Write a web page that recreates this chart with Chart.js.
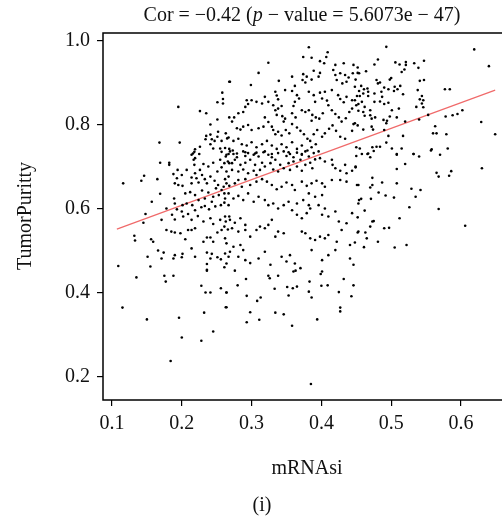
<!DOCTYPE html>
<html>
<head>
<meta charset="utf-8">
<script src="https://cdn.jsdelivr.net/npm/chart.js@4.4.0/dist/chart.umd.min.js"></script>
<style>
  html, body { margin: 0; padding: 0; background: #fff; overflow: hidden; }
  #wrap { width: 512px; height: 520px; }
</style>
</head>
<body>
<div id="wrap"><canvas id="purityChart" width="512" height="520"></canvas></div>
<script>
// samples, grouped by area of the plot: [mRNAsi, tumor purity]
var upperLeft = [
  [0.268,0.903],[0.258,0.877],[0.251,0.854],[0.259,0.862],[0.259,0.851],[0.195,0.843],[0.226,0.833],
  [0.235,0.828],[0.268,0.818],[0.251,0.813],[0.241,0.801],[0.252,0.784],[0.263,0.780],[0.241,0.777],
  [0.235,0.774],[0.234,0.766],[0.243,0.766],[0.247,0.762],[0.257,0.762],[0.251,0.772],[0.265,0.768],
  [0.168,0.758],[0.197,0.758],[0.241,0.754],[0.219,0.742],[0.226,0.748],[0.245,0.744],[0.255,0.744],
  [0.262,0.745],[0.216,0.732],[0.225,0.731]
];
var upperMid = [
  [0.382,0.985],[0.374,0.962],[0.386,0.960],[0.409,0.973],[0.407,0.962],[0.398,0.952],[0.404,0.947],
  [0.324,0.948],[0.310,0.924],[0.269,0.903],[0.299,0.895],[0.420,0.943],[0.432,0.947],[0.446,0.943],
  [0.417,0.931],[0.389,0.929],[0.374,0.921],[0.379,0.915],[0.373,0.907],[0.377,0.901],[0.386,0.908],
  [0.396,0.915],[0.398,0.924],[0.358,0.915],[0.339,0.905],[0.362,0.893],[0.420,0.919],[0.427,0.923],
  [0.434,0.919],[0.439,0.913],[0.445,0.923],[0.452,0.924],[0.422,0.907],[0.430,0.899],[0.436,0.903],
  [0.449,0.908],[0.348,0.883],[0.334,0.879],[0.336,0.870],[0.338,0.861],[0.319,0.867],[0.315,0.851],
  [0.307,0.855],[0.300,0.859],[0.293,0.859],[0.295,0.850],[0.291,0.843],[0.288,0.831],[0.281,0.828],
  [0.275,0.818],[0.358,0.881],[0.365,0.871],[0.368,0.863],[0.362,0.855],[0.360,0.845],[0.382,0.879],
  [0.389,0.871],[0.398,0.877],[0.405,0.879],[0.401,0.863],[0.408,0.858],[0.391,0.855],[0.415,0.883],
  [0.424,0.871],[0.427,0.862],[0.432,0.854],[0.436,0.867],[0.444,0.859],[0.451,0.869],[0.453,0.850],
  [0.444,0.839],[0.324,0.855],[0.331,0.847],[0.334,0.835],[0.338,0.839],[0.343,0.845],[0.336,0.824],
  [0.344,0.821],[0.348,0.815],[0.346,0.808],[0.358,0.828],[0.363,0.818],[0.372,0.835],[0.377,0.831],
  [0.382,0.835],[0.387,0.824],[0.392,0.818],[0.386,0.810],[0.397,0.815],[0.402,0.828],[0.410,0.847],
  [0.415,0.835],[0.420,0.826],[0.425,0.818],[0.429,0.808],[0.435,0.816],[0.440,0.831],[0.446,0.802],
  [0.452,0.799],[0.272,0.808],[0.279,0.792],[0.284,0.789],[0.288,0.796],[0.295,0.800],[0.300,0.788],
  [0.310,0.792],[0.317,0.796],[0.319,0.818],[0.324,0.807],[0.329,0.796],[0.331,0.788],[0.334,0.778],
  [0.338,0.784],[0.343,0.775],[0.349,0.788],[0.354,0.780],[0.358,0.802],[0.365,0.794],[0.370,0.786],
  [0.375,0.778],[0.380,0.767],[0.384,0.762],[0.389,0.778],[0.394,0.788],[0.401,0.772],[0.405,0.780],
  [0.411,0.791],[0.416,0.799],[0.421,0.786],[0.427,0.772],[0.434,0.767],[0.444,0.786],[0.267,0.770],
  [0.274,0.762],[0.281,0.767],[0.286,0.754],[0.293,0.751],[0.300,0.759],[0.307,0.747],[0.315,0.754],
  [0.322,0.762],[0.329,0.751],[0.336,0.743],[0.343,0.754],[0.350,0.747],[0.358,0.759],[0.365,0.743],
  [0.372,0.751],[0.380,0.739],[0.386,0.747],[0.392,0.754],[0.268,0.743],[0.273,0.739],[0.279,0.732],
  [0.291,0.735],[0.305,0.732],[0.317,0.735],[0.329,0.731],[0.353,0.735],[0.372,0.731]
];
var upperRight = [
  [0.493,0.986],[0.619,0.980],[0.640,0.940],[0.481,0.956],[0.476,0.944],[0.506,0.949],[0.512,0.944],
  [0.521,0.950],[0.521,0.943],[0.533,0.947],[0.539,0.936],[0.547,0.953],[0.519,0.932],[0.515,0.926],
  [0.452,0.937],[0.454,0.923],[0.464,0.928],[0.479,0.907],[0.481,0.899],[0.484,0.901],[0.500,0.912],
  [0.498,0.908],[0.541,0.905],[0.547,0.907],[0.448,0.891],[0.457,0.893],[0.461,0.885],[0.466,0.887],
  [0.467,0.879],[0.460,0.875],[0.454,0.881],[0.455,0.869],[0.467,0.869],[0.476,0.875],[0.486,0.879],
  [0.490,0.889],[0.496,0.885],[0.505,0.891],[0.513,0.893],[0.509,0.885],[0.504,0.881],[0.517,0.873],
  [0.538,0.883],[0.544,0.869],[0.541,0.861],[0.546,0.859],[0.544,0.851],[0.577,0.885],[0.584,0.885],
  [0.448,0.859],[0.450,0.847],[0.458,0.855],[0.462,0.843],[0.453,0.834],[0.460,0.831],[0.462,0.822],
  [0.470,0.835],[0.470,0.823],[0.472,0.815],[0.477,0.818],[0.476,0.855],[0.484,0.856],[0.490,0.850],
  [0.496,0.853],[0.487,0.867],[0.501,0.835],[0.511,0.839],[0.489,0.812],[0.494,0.810],[0.498,0.820],
  [0.508,0.818],[0.520,0.808],[0.536,0.843],[0.546,0.842],[0.540,0.813],[0.553,0.824],[0.563,0.797],
  [0.560,0.780],[0.565,0.780],[0.579,0.778],[0.578,0.820],[0.588,0.823],[0.595,0.826],[0.602,0.835],
  [0.629,0.807],[0.649,0.778],[0.448,0.804],[0.460,0.789],[0.472,0.796],[0.474,0.789],[0.490,0.788],
  [0.493,0.804],[0.496,0.774],[0.517,0.774],[0.450,0.747],[0.455,0.744],[0.467,0.732],[0.473,0.747],
  [0.479,0.748],[0.484,0.748],[0.493,0.758],[0.501,0.744],[0.515,0.744],[0.532,0.731],[0.558,0.742],
  [0.581,0.744],[0.508,0.731]
];
var midLeft = [
  [0.218,0.736],[0.214,0.729],[0.219,0.721],[0.217,0.717],[0.257,0.736],[0.263,0.725],[0.267,0.731],
  [0.255,0.717],[0.261,0.709],[0.268,0.709],[0.169,0.710],[0.182,0.710],[0.182,0.705],[0.218,0.705],
  [0.231,0.707],[0.238,0.701],[0.245,0.710],[0.251,0.689],[0.257,0.699],[0.264,0.689],[0.194,0.693],
  [0.188,0.683],[0.193,0.673],[0.200,0.681],[0.207,0.693],[0.219,0.685],[0.226,0.693],[0.229,0.681],
  [0.221,0.673],[0.214,0.675],[0.233,0.671],[0.241,0.677],[0.146,0.679],[0.142,0.667],[0.165,0.671],
  [0.116,0.661],[0.190,0.661],[0.195,0.657],[0.201,0.655],[0.214,0.661],[0.224,0.663],[0.236,0.661],
  [0.247,0.667],[0.252,0.657],[0.260,0.653],[0.264,0.661],[0.268,0.655],[0.249,0.649],[0.257,0.645],
  [0.169,0.636],[0.205,0.637],[0.212,0.640],[0.219,0.633],[0.229,0.644],[0.238,0.639],[0.245,0.629],
  [0.253,0.633],[0.261,0.637],[0.262,0.625],[0.224,0.621],[0.233,0.625],[0.243,0.617],[0.189,0.625],
  [0.190,0.613],[0.157,0.617],[0.201,0.609],[0.207,0.613],[0.215,0.609],[0.219,0.597],[0.228,0.604],
  [0.233,0.607],[0.239,0.599],[0.248,0.606],[0.256,0.609],[0.261,0.615],[0.267,0.609],[0.178,0.601],
  [0.193,0.599],[0.186,0.586],[0.200,0.594],[0.209,0.588],[0.148,0.588],[0.145,0.567],[0.171,0.574],
  [0.190,0.575],[0.202,0.582],[0.214,0.574],[0.223,0.583],[0.231,0.570],[0.241,0.578],[0.245,0.564],
  [0.255,0.574],[0.263,0.570],[0.257,0.550],[0.266,0.551],[0.261,0.558],[0.268,0.582],[0.178,0.550],
  [0.185,0.546],[0.190,0.544],[0.198,0.542],[0.205,0.528],[0.209,0.550],[0.214,0.550],[0.219,0.554],
  [0.231,0.522],[0.236,0.532],[0.241,0.532],[0.245,0.522],[0.251,0.544],[0.262,0.530],[0.132,0.536],
  [0.133,0.525],[0.156,0.528],[0.159,0.522],[0.166,0.501],[0.174,0.496],[0.171,0.482],[0.190,0.490],
  [0.188,0.482],[0.201,0.493],[0.200,0.485],[0.214,0.506],[0.219,0.486],[0.236,0.496],[0.243,0.493],
  [0.241,0.482],[0.251,0.485],[0.256,0.480],[0.262,0.494],[0.267,0.486],[0.151,0.486],[0.109,0.464],
  [0.155,0.463],[0.236,0.469],[0.236,0.455],[0.261,0.461],[0.264,0.470]
];
var center = [
  [0.264,0.729],[0.269,0.737],[0.274,0.731],[0.279,0.723],[0.288,0.737],[0.291,0.726],[0.295,0.733],
  [0.303,0.729],[0.307,0.734],[0.310,0.725],[0.319,0.737],[0.324,0.729],[0.329,0.723],[0.338,0.733],
  [0.346,0.737],[0.350,0.726],[0.355,0.731],[0.360,0.723],[0.365,0.734],[0.372,0.729],[0.377,0.737],
  [0.382,0.725],[0.389,0.733],[0.396,0.737],[0.266,0.713],[0.272,0.709],[0.276,0.717],[0.284,0.705],
  [0.291,0.710],[0.298,0.717],[0.305,0.705],[0.315,0.710],[0.319,0.701],[0.327,0.709],[0.334,0.717],
  [0.341,0.705],[0.346,0.697],[0.353,0.709],[0.360,0.713],[0.365,0.701],[0.370,0.717],[0.377,0.705],
  [0.384,0.710],[0.391,0.718],[0.272,0.693],[0.281,0.689],[0.288,0.694],[0.295,0.685],[0.303,0.691],
  [0.307,0.681],[0.312,0.693],[0.331,0.694],[0.338,0.689],[0.355,0.693],[0.372,0.691],[0.387,0.697],
  [0.398,0.721],[0.405,0.713],[0.415,0.717],[0.416,0.705],[0.420,0.697],[0.434,0.705],[0.427,0.691],
  [0.436,0.685],[0.444,0.691],[0.449,0.701],[0.262,0.671],[0.267,0.677],[0.281,0.669],[0.276,0.661],
  [0.291,0.671],[0.298,0.657],[0.286,0.653],[0.307,0.665],[0.315,0.671],[0.322,0.665],[0.329,0.657],
  [0.336,0.647],[0.343,0.653],[0.350,0.663],[0.358,0.657],[0.362,0.645],[0.372,0.665],[0.379,0.655],
  [0.386,0.661],[0.393,0.667],[0.401,0.661],[0.405,0.653],[0.415,0.669],[0.427,0.669],[0.436,0.665],
  [0.451,0.657],[0.382,0.637],[0.391,0.629],[0.401,0.633],[0.267,0.637],[0.274,0.625],[0.281,0.631],
  [0.288,0.621],[0.295,0.637],[0.303,0.617],[0.310,0.629],[0.319,0.621],[0.324,0.609],[0.331,0.613],
  [0.338,0.601],[0.346,0.609],[0.353,0.617],[0.365,0.613],[0.374,0.621],[0.382,0.609],[0.358,0.597],
  [0.365,0.586],[0.372,0.578],[0.379,0.590],[0.384,0.601],[0.396,0.609],[0.405,0.601],[0.401,0.586],
  [0.410,0.582],[0.420,0.594],[0.425,0.570],[0.436,0.566],[0.444,0.590],[0.453,0.613],[0.453,0.546],
  [0.262,0.582],[0.269,0.574],[0.276,0.567],[0.284,0.578],[0.291,0.562],[0.272,0.554],[0.281,0.546],
  [0.291,0.550],[0.298,0.534],[0.307,0.550],[0.312,0.558],[0.319,0.554],[0.324,0.562],[0.329,0.574],
  [0.338,0.546],[0.346,0.542],[0.334,0.534],[0.372,0.546],[0.377,0.542],[0.384,0.530],[0.391,0.526],
  [0.398,0.534],[0.405,0.530],[0.410,0.538],[0.422,0.522],[0.429,0.550],[0.441,0.514],[0.448,0.520],
  [0.264,0.518],[0.274,0.510],[0.284,0.514],[0.288,0.502],[0.269,0.498],[0.281,0.486],[0.291,0.478],
  [0.298,0.471],[0.310,0.482],[0.319,0.498],[0.327,0.467],[0.343,0.486],[0.350,0.475],[0.355,0.490],
  [0.362,0.470],[0.370,0.459],[0.386,0.502],[0.401,0.478],[0.410,0.490],[0.420,0.502],[0.441,0.482],
  [0.446,0.467],[0.401,0.451],[0.360,0.451]
];
var midRight = [
  [0.450,0.726],[0.458,0.731],[0.466,0.731],[0.470,0.723],[0.475,0.738],[0.508,0.729],[0.532,0.731],
  [0.540,0.725],[0.570,0.729],[0.557,0.739],[0.520,0.707],[0.508,0.695],[0.449,0.699],[0.565,0.686],
  [0.568,0.677],[0.583,0.679],[0.586,0.690],[0.630,0.697],[0.473,0.674],[0.487,0.663],[0.508,0.661],
  [0.453,0.657],[0.473,0.657],[0.470,0.651],[0.482,0.639],[0.492,0.632],[0.504,0.627],[0.529,0.648],
  [0.542,0.645],[0.535,0.629],[0.454,0.621],[0.457,0.624],[0.471,0.624],[0.526,0.604],[0.568,0.600],
  [0.462,0.596],[0.452,0.580],[0.512,0.578],[0.473,0.570],[0.475,0.571],[0.470,0.558],[0.490,0.554],
  [0.497,0.555],[0.606,0.560],[0.452,0.544],[0.463,0.544],[0.465,0.530],[0.481,0.522],[0.461,0.509],
  [0.505,0.508],[0.522,0.514]
];
var lowerLeft = [
  [0.135,0.437],[0.175,0.441],[0.177,0.427],[0.188,0.441],[0.236,0.453],[0.228,0.417],[0.234,0.401],
  [0.241,0.401],[0.256,0.411],[0.264,0.401],[0.115,0.365],[0.263,0.366],[0.232,0.353],[0.150,0.337],
  [0.196,0.341],[0.245,0.308],[0.200,0.294],[0.228,0.286],[0.184,0.238]
];
var lowerMid = [
  [0.276,0.453],[0.292,0.433],[0.324,0.441],[0.326,0.435],[0.338,0.441],[0.363,0.453],[0.399,0.445],
  [0.280,0.418],[0.264,0.401],[0.264,0.366],[0.293,0.393],[0.308,0.381],[0.313,0.389],[0.333,0.410],
  [0.351,0.414],[0.359,0.411],[0.365,0.415],[0.353,0.394],[0.383,0.427],[0.382,0.403],[0.386,0.389],
  [0.400,0.417],[0.409,0.418],[0.432,0.433],[0.446,0.418],[0.425,0.402],[0.443,0.392],[0.298,0.354],
  [0.334,0.353],[0.346,0.349],[0.293,0.330],[0.311,0.336],[0.358,0.322],[0.427,0.365],[0.427,0.356],
  [0.394,0.337],[0.385,0.183]
];

// regression line end points
var fitX = [0.107, 0.649];
var fitY = [0.552, 0.883];

var xTicks = [0.1, 0.2, 0.3, 0.4, 0.5, 0.6];
var yTicks = [0.2, 0.4, 0.6, 0.8, 1.0];

var titleParts = [
  { text: 'Cor = \u22120.42 (', italic: false },
  { text: 'p', italic: true },
  { text: ' \u2212 value = 5.6073e \u2212 47)', italic: false }
];
var xLabel = 'mRNAsi';
var yLabel = 'TumorPuritty';
var panelTag = '(i)';

var FONT = '"Liberation Serif", "DejaVu Serif", serif';

function toPoints(groups) {
  var pts = [];
  for (var g = 0; g < groups.length; g++) {
    for (var i = 0; i < groups[g].length; i++) {
      pts.push({ x: groups[g][i][0], y: groups[g][i][1] });
    }
  }
  return pts;
}

var allPoints = toPoints([upperLeft, upperMid, upperRight, midLeft, center, midRight, lowerLeft, lowerMid]);
var fitLine = [{ x: fitX[0], y: fitY[0] }, { x: fitX[1], y: fitY[1] }];

// frame, title and captions drawn straight onto the canvas
var decorations = {
  id: 'decorations',
  afterDraw: function(chart) {
    var ctx = chart.ctx;
    var a = chart.chartArea;
    ctx.save();
    ctx.strokeStyle = '#000';
    ctx.lineWidth = 1.5;
    ctx.strokeRect(a.left, a.top, a.right - a.left, a.bottom - a.top);

    ctx.fillStyle = '#111';
    ctx.textBaseline = 'alphabetic';
    var total = 0;
    titleParts.forEach(function(p) {
      ctx.font = (p.italic ? 'italic ' : '') + '20px ' + FONT;
      p.w = ctx.measureText(p.text).width;
      total += p.w;
    });
    var x = 302 - total / 2;
    titleParts.forEach(function(p) {
      ctx.font = (p.italic ? 'italic ' : '') + '20px ' + FONT;
      ctx.textAlign = 'left';
      ctx.fillText(p.text, x, 21);
      x += p.w;
    });

    ctx.font = '20px ' + FONT;
    ctx.textAlign = 'center';
    ctx.textBaseline = 'middle';
    ctx.fillText(xLabel, 307, 469);
    ctx.fillText(panelTag, 262, 506);

    ctx.translate(26, 216);
    ctx.rotate(-Math.PI / 2);
    ctx.fillText(yLabel, 0, 0);
    ctx.restore();
  }
};

var ctx = document.getElementById('purityChart').getContext('2d');
var chart = new Chart(ctx, {
  type: 'scatter',
  data: {
    datasets: [{
      label: 'samples',
      data: allPoints,
      backgroundColor: '#000',
      borderWidth: 0,
      pointRadius: 1.3,
      pointHoverRadius: 1.3
    }, {
      type: 'line',
      label: 'fit',
      data: fitLine,
      borderColor: '#f06a6a',
      borderWidth: 1.2,
      pointRadius: 0,
      fill: false
    }]
  },
  options: {
    responsive: false,
    animation: false,
    layout: { padding: { left: 0, top: 33, right: 6, bottom: 0 } },
    plugins: {
      legend: { display: false },
      tooltip: { enabled: false },
      title: { display: false }
    },
    scales: {
      x: {
        type: 'linear',
        min: 0.0871,
        max: 0.6645,
        afterFit: function(s) { s.height = 120; },
        afterBuildTicks: function(s) { s.ticks = xTicks.map(function(v) { return { value: v }; }); },
        grid: { display: true, drawOnChartArea: false, drawTicks: true, tickLength: 6, color: '#000', lineWidth: 1.2 },
        border: { display: false },
        ticks: {
          color: '#111',
          padding: 6,
          font: { family: FONT, size: 20 },
          callback: function(v) { return v.toFixed(1); }
        }
      },
      y: {
        type: 'linear',
        min: 0.145,
        max: 1.019,
        afterFit: function(s) { s.width = 103; },
        afterBuildTicks: function(s) { s.ticks = yTicks.map(function(v) { return { value: v }; }); },
        grid: { display: true, drawOnChartArea: false, drawTicks: true, tickLength: 6, color: '#000', lineWidth: 1.2 },
        border: { display: false },
        ticks: {
          color: '#111',
          padding: 7,
          font: { family: FONT, size: 20 },
          callback: function(v) { return v.toFixed(1); }
        }
      }
    }
  },
  plugins: [decorations]
});
</script>
</body>
</html>
